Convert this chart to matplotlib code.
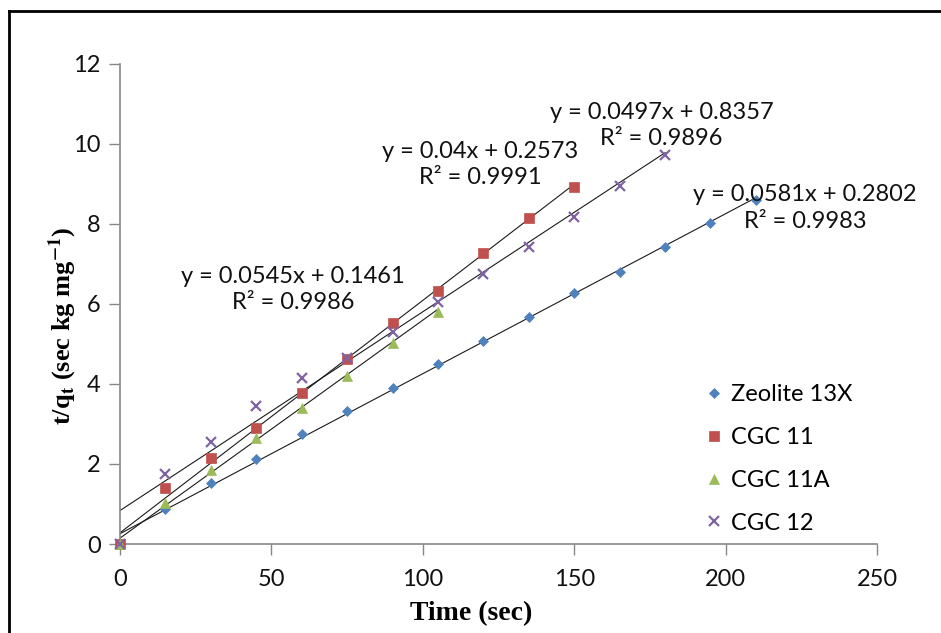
import matplotlib
matplotlib.use("Agg")
import matplotlib.pyplot as plt
from matplotlib.lines import Line2D
import numpy as np

# pseudo-second-order kinetics: t/qt versus time for each adsorbent
series_names = ["Zeolite 13X", "CGC 11", "CGC 11A", "CGC 12"]

time_zeolite = [0, 15, 30, 45, 60, 75, 90, 105, 120, 135, 150, 165, 180, 195, 210]
tq_zeolite = [0.0, 0.87, 1.53, 2.13, 2.74, 3.32, 3.89, 4.51, 5.07, 5.68, 6.27, 6.81, 7.42, 8.03, 8.60]

time_cgc11 = [0, 15, 30, 45, 60, 75, 90, 105, 120, 135, 150]
tq_cgc11 = [0.0, 1.39, 2.14, 2.91, 3.78, 4.63, 5.52, 6.33, 7.27, 8.16, 8.93]

time_cgc11a = [0, 15, 30, 45, 60, 75, 90, 105]
tq_cgc11a = [0.0, 1.03, 1.85, 2.66, 3.41, 4.21, 5.03, 5.81]

time_cgc12 = [0, 15, 30, 45, 60, 75, 90, 105, 120, 135, 150, 165, 180]
tq_cgc12 = [0.0, 1.76, 2.55, 3.44, 4.15, 4.66, 5.31, 6.04, 6.75, 7.43, 8.18, 8.96, 9.73]

# linear trendlines: slope, intercept, R^2
slopes = [0.04, 0.0581, 0.0545, 0.0497]
intercepts = [0.2573, 0.2802, 0.1461, 0.8357]
r_squared = [0.9991, 0.9983, 0.9986, 0.9896]

# where each trendline label sits (data coords)
label_x = [118.9, 226.2, 57.2, 178.9]
label_y = [9.48, 8.40, 6.36, 10.46]

x_ticks = [0, 50, 100, 150, 200, 250]
y_ticks = [0, 2, 4, 6, 8, 10, 12]

times = [time_zeolite, time_cgc11, time_cgc11a, time_cgc12]
values = [tq_zeolite, tq_cgc11, tq_cgc11a, tq_cgc12]
colors = ["#4F81BD", "#C0504D", "#9BBB59", "#8064A2"]
markers = ["D", "s", "^", "x"]
sizes = [5.5, 7.5, 7.5, 6.5]

plt.rcParams["font.family"] = ["Lato", "DejaVu Sans"]
plt.rcParams["mathtext.fontset"] = "stix"

fig = plt.figure(figsize=(9.41, 6.33), dpi=100)
ax = fig.add_axes([0.1275, 0.1406, 0.8045, 0.7583])

for t, v, c, m, s, name in zip(times, values, colors, markers, sizes, series_names):
    ax.plot(t, v, linestyle="none", marker=m, color=c, markersize=s,
            markeredgewidth=1.6 if m == "x" else 0.5, label=name, zorder=3,
            clip_on=False)

for t, k, b in zip(times, slopes, intercepts):
    xs = np.array([0, max(t)])
    ax.plot(xs, k * xs + b, color="#1a1a1a", lw=0.8, zorder=2)

for k, b, r2, lx, ly in zip(slopes, intercepts, r_squared, label_x, label_y):
    ax.text(lx, ly, f"y = {k:g}x + {b:g}\nR\u00b2 = {r2:g}", ha="center", va="center",
            fontsize=17, color="#111111", linespacing=1.3, zorder=4)

ax.set_xlim(0, 250)
ax.set_ylim(0, 12)
ax.set_xticks(x_ticks)
ax.set_yticks(y_ticks)
ax.tick_params(axis="both", direction="out", length=8, width=1, color="#868686",
               labelsize=17, labelcolor="#111111", pad=6)
ax.tick_params(axis="x", pad=10)
for side in ["top", "right"]:
    ax.spines[side].set_visible(False)
for side in ["left", "bottom"]:
    ax.spines[side].set_color("#868686")
    ax.spines[side].set_linewidth(1.2)

ax.set_xlabel("Time (sec)", family="Liberation Serif", fontweight="bold", fontsize=20)
ax.xaxis.set_label_coords(0.464, -0.119)
ax.set_ylabel(r"t/q$_\mathbf{t}$ (sec kg mg$^\mathbf{-1}$)", family="Liberation Serif",
              fontweight="bold", fontsize=19)
ax.yaxis.set_label_coords(-0.054, 0.455)

ax.legend(loc="upper left", bbox_to_anchor=(0.7555, 0.352), frameon=False, fontsize=17,
          handletextpad=0.15, labelspacing=0.92, handlelength=1.1, borderaxespad=0)

# outer border of the chart area
fig.add_artist(Line2D([0.0093, 0.0093], [0.0, 0.9826], color="black", lw=2))
fig.add_artist(Line2D([0.0093, 1.0], [0.9826, 0.9826], color="black", lw=2))

fig.savefig("out.png", dpi=100)
